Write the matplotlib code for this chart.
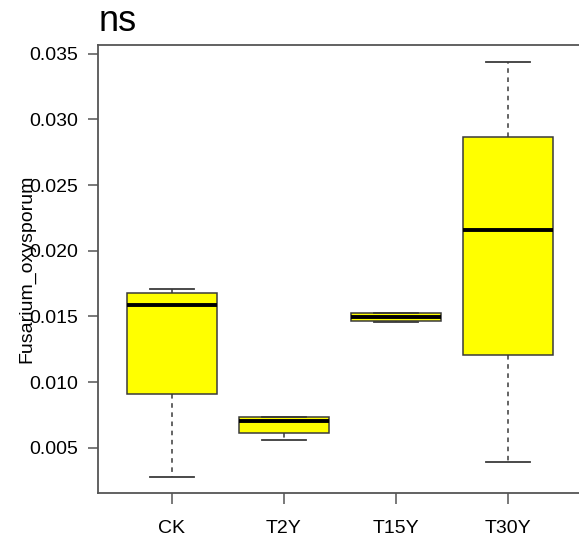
import matplotlib
matplotlib.use("Agg")
import matplotlib.pyplot as plt

plt.rcParams['font.family'] = ['Liberation Sans', 'DejaVu Sans']

categories = ["CK", "T2Y", "T15Y", "T30Y"]
whislo = [0.00282, 0.00563, 0.01456, 0.00396]
q1 = [0.00908, 0.00616, 0.01468, 0.01207]
med = [0.01590, 0.00708, 0.01498, 0.02155]
q3 = [0.01679, 0.00733, 0.01524, 0.02863]
whishi = [0.01707, 0.00733, 0.01524, 0.03433]
yticks = [0.005, 0.010, 0.015, 0.020, 0.025, 0.030, 0.035]
title = "ns"
ylabel = "Fusarium_oxysporum"

W, H = 579, 540
fig = plt.figure(figsize=(W / 100, H / 100), dpi=100)
left, right, top, bottom = 98, 582, 44.7, 492.7
ax = fig.add_axes([left / W, 1 - bottom / H, (right - left) / W, (bottom - top) / H])

stats = []
for i, c in enumerate(categories):
    stats.append(dict(label=c, whislo=whislo[i], q1=q1[i], med=med[i],
                      q3=q3[i], whishi=whishi[i], fliers=[]))

edge = "#3a3a3a"
ax.bxp(stats, positions=range(1, len(categories) + 1), widths=0.8,
       patch_artist=True, showfliers=False,
       boxprops=dict(facecolor="#FFFF00", edgecolor=edge, linewidth=1.1),
       medianprops=dict(color="black", linewidth=2.8, solid_capstyle="butt"),
       whiskerprops=dict(color=edge, linewidth=1.1, linestyle=(0, (3, 3))),
       capprops=dict(color=edge, linewidth=1.3),
       capwidths=0.4)

ax.set_xlim(0.34, 4.66)
ax.set_ylim(0.0016, 0.03567)
ax.set_yticks(yticks)
ax.set_yticklabels([f"{v:.3f}" for v in yticks])
ax.set_xticks(range(1, len(categories) + 1))
ax.set_xticklabels(categories)

for s in ax.spines.values():
    s.set_color("#555555")
    s.set_linewidth(1.3)

ax.tick_params(axis="y", direction="out", length=7, width=1.1, color="#555555",
               labelsize=14, pad=7)
ax.tick_params(axis="x", direction="out", length=8, width=1.1, color="#555555",
               labelsize=14, pad=12)

ax.set_ylabel(ylabel, fontsize=14, labelpad=-4)
fig.text(99 / W, 1 - 31 / H, title, fontsize=26, ha="left", va="baseline")

fig.savefig("out.png", dpi=100)
